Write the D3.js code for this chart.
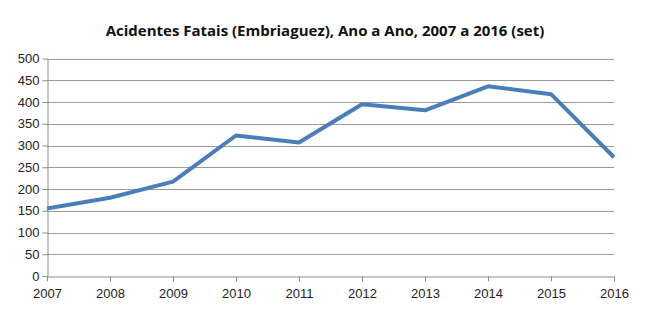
<!DOCTYPE html>
<html lang="pt">
<head>
    <meta charset="UTF-8">
    <title>Acidentes Fatais (Embriaguez)</title>
    <script src="https://d3js.org/d3.v7.min.js"></script>
    <style>
        body { margin: 0; background: #fff; }
        svg { display: block; font-family: "Open Sans", "Noto Sans", sans-serif; }
        .axis path, .axis line { stroke: #8c8c8c; }
        .axis text { fill: #222; font-size: 13px; }
    </style>
</head>
<body>
<script>
    // anos e óbitos por ano
    const anos = ["2007", "2008", "2009", "2010", "2011", "2012", "2013", "2014", "2015", "2016"];
    const obitos = [155, 180, 217, 323, 307, 395, 381, 436, 418, 273];
    const yTicks = [0, 50, 100, 150, 200, 250, 300, 350, 400, 450, 500];

    const width = 660, height = 326;
    const margin = { top: 58.5, right: 46, bottom: 50, left: 47 };

    const svg = d3.select("body").append("svg")
        .attr("width", width)
        .attr("height", height);

    const x = d3.scalePoint()
        .domain(anos)
        .range([margin.left, width - margin.right]);

    const y = d3.scaleLinear()
        .domain([0, 500])
        .range([height - margin.bottom, margin.top]);

    // título
    svg.append("text")
        .attr("x", 325)
        .attr("y", 36)
        .attr("text-anchor", "middle")
        .attr("font-size", "15px")
        .attr("font-weight", "bold")
        .attr("fill", "#111")
        .text("Acidentes Fatais (Embriaguez), Ano a Ano, 2007 a 2016 (set)");

    // linhas de grade
    svg.append("g")
        .selectAll("line")
        .data(yTicks.filter(d => d > 0))
        .join("line")
        .attr("x1", margin.left)
        .attr("x2", width - margin.right)
        .attr("y1", d => Math.round(y(d)) + 0.5)
        .attr("y2", d => Math.round(y(d)) + 0.5)
        .attr("stroke", "#9a9a9a");

    // eixo y
    svg.append("g")
        .attr("class", "axis")
        .attr("transform", `translate(${margin.left + 0.5},0)`)
        .call(d3.axisLeft(y).tickValues(yTicks).tickSize(5).tickPadding(3).tickSizeOuter(0));

    // eixo x
    svg.append("g")
        .attr("class", "axis")
        .attr("transform", `translate(0,${Math.round(y(0)) + 0.5})`)
        .call(d3.axisBottom(x).tickSize(5).tickPadding(7).tickSizeOuter(0));

    // série
    const linha = d3.line()
        .x((d, i) => x(anos[i]))
        .y(d => y(d));

    svg.append("path")
        .datum(obitos)
        .attr("fill", "none")
        .attr("stroke", "#4a7ebb")
        .attr("stroke-width", 4)
        .attr("stroke-linejoin", "round")
        .attr("d", linha);
</script>
</body>
</html>
